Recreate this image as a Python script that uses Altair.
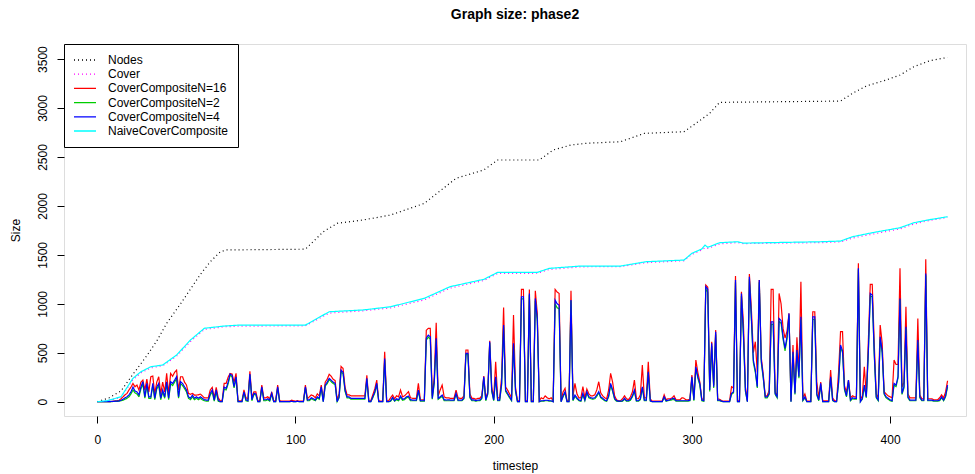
import altair as alt
import pandas as pd

# ---------------- data ----------------
series_names = ["Nodes", "Cover", "CoverCompositeN=16", "CoverCompositeN=2",
                "CoverCompositeN=4", "NaiveCoverComposite"]
series_colors = ["#000000", "#FF00FF", "#FF0000", "#00CD00", "#0000FF", "#00FFFF"]

# smooth series (timestep, value) breakpoints
nodes_t = [0, 6, 12, 18, 25, 30, 35, 42, 47, 52, 57, 62, 65, 105, 114, 121, 134, 148, 165,
           181, 195, 202, 223, 230, 239, 247, 264, 276, 296, 302, 309, 314, 375, 381, 388,
           398, 405, 412, 420, 429]
nodes_v = [0, 40, 110, 280, 470, 620, 800, 1000, 1150, 1300, 1430, 1530, 1550, 1558, 1736,
           1822, 1856, 1907, 2026, 2282, 2367, 2469, 2469, 2571, 2622, 2640, 2656, 2741,
           2758, 2843, 2946, 3058, 3071, 3150, 3225, 3286, 3337, 3422, 3483, 3517]

naive_t = [0, 5, 12, 18, 22, 27, 33, 40, 47, 54, 64, 72, 105, 117, 134, 148, 165, 178, 195,
           202, 222, 228, 244, 264, 277, 296, 300, 305, 306.6, 308, 314, 323, 326, 365, 375,
           381, 392, 405, 412, 419, 429]
naive_v = [0, 10, 51, 239, 306, 357, 375, 477, 630, 750, 773, 783, 783, 919, 937, 970, 1056,
           1175, 1250, 1321, 1321, 1362, 1386, 1386, 1430, 1447, 1516, 1560, 1600, 1577,
           1624, 1634, 1620, 1634, 1641, 1685, 1730, 1777, 1828, 1856, 1890]
cover_v = [0, 8, 45, 225, 295, 345, 368, 465, 615, 738, 765, 772, 775, 905, 928, 958, 1040,
           1160, 1238, 1310, 1312, 1350, 1378, 1380, 1420, 1440, 1505, 1550, 1570, 1565,
           1612, 1625, 1615, 1625, 1632, 1672, 1715, 1765, 1815, 1848, 1882]

# composite series, one value per timestep 0..429
n4 = [
    0, 0, 0, 0, 0, 0, 0, 2, 3, 5,
    5, 8, 15, 25, 40, 50, 70, 100, 150, 110,
    100, 70, 150, 205, 50, 187, 50, 50, 187, 35,
    150, 187, 35, 120, 50, 204, 35, 204, 187, 220,
    255, 50, 204, 187, 153, 120, 50, 35, 68, 35,
    50, 35, 50, 35, 20, 17, 17, 85, 120, 17,
    120, 17, 0, 0, 150, 135, 200, 283, 270, 153,
    255, 0, 0, 0, 100, 20, 10, 283, 20, 85,
    80, 0, 0, 153, 20, 20, 30, 15, 85, 0,
    0, 153, 0, 0, 0, 0, 0, 0, 5, 0,
    0, 5, 0, 0, 0, 153, 17, 20, 40, 30,
    17, 50, 35, 153, 0, 170, 200, 238, 220, 200,
    187, 0, 50, 323, 300, 119, 50, 50, 35, 35,
    35, 35, 35, 35, 35, 35, 238, 0, 0, 50,
    100, 187, 0, 0, 0, 442, 0, 0, 10, 44,
    10, 30, 20, 58, 25, 30, 50, 58, 20, 17,
    17, 17, 119, 10, 10, 10, 650, 680, 663, 34,
    200, 647, 34, 50, 68, 20, 17, 20, 17, 17,
    17, 85, 17, 17, 17, 40, 494, 494, 50, 17,
    20, 10, 17, 17, 40, 255, 17, 85, 613, 119,
    17, 255, 17, 17, 187, 783, 119, 85, 50, 17,
    596, 119, 0, 0, 1072, 1072, 0, 0, 1106, 0,
    0, 1055, 850, 0, 10, 10, 15, 15, 10, 10,
    0, 1038, 1000, 987, 0, 60, 102, 0, 0, 1038,
    17, 68, 40, 17, 10, 85, 17, 102, 50, 40,
    35, 40, 68, 102, 50, 35, 17, 10, 60, 187,
    120, 35, 10, 5, 5, 10, 35, 10, 10, 25,
    60, 119, 10, 10, 30, 153, 17, 17, 306, 10,
    0, 0, 0, 0, 0, 0, 50, 10, 15, 20,
    30, 35, 10, 10, 10, 10, 10, 10, 10, 15,
    255, 17, 357, 255, 187, 17, 10, 1175, 1150, 119,
    596, 153, 715, 17, 17, 5, 0, 0, 0, 0,
    85, 102, 1243, 0, 0, 1106, 700, 119, 0, 1277,
    868, 425, 323, 153, 1243, 425, 255, 50, 50, 85,
    817, 817, 85, 50, 851, 830, 665, 545, 665, 902,
    0, 510, 85, 528, 255, 868, 17, 50, 0, 0,
    0, 868, 868, 80, 17, 187, 0, 0, 0, 0,
    255, 17, 0, 0, 200, 579, 520, 136, 60, 221,
    17, 40, 35, 35, 1362, 0, 35, 170, 50, 500,
    1106, 1090, 500, 50, 17, 664, 520, 85, 50, 35,
    20, 10, 187, 170, 255, 1055, 85, 153, 766, 50,
    17, 17, 17, 17, 630, 50, 17, 17, 1310, 17,
    17, 17, 10, 10, 10, 17, 50, 17, 60, 170,
]

n16 = [
    0, 0, 0, 0, 0, 0, 0, 3, 5, 8,
    10, 15, 30, 50, 70, 85, 120, 150, 187, 153,
    170, 120, 200, 221, 120, 230, 100, 255, 262, 80,
    200, 255, 80, 200, 100, 289, 80, 289, 260, 300,
    323, 120, 255, 255, 200, 170, 85, 75, 85, 68,
    68, 70, 78, 60, 40, 40, 40, 120, 146, 40,
    146, 40, 10, 10, 187, 187, 250, 289, 283, 200,
    289, 10, 10, 10, 120, 40, 30, 310, 40, 100,
    100, 10, 10, 170, 40, 40, 50, 30, 100, 10,
    10, 170, 10, 5, 5, 5, 5, 5, 15, 10,
    5, 10, 5, 5, 5, 170, 30, 50, 70, 60,
    40, 80, 60, 170, 20, 200, 230, 280, 260, 230,
    215, 20, 80, 360, 340, 150, 70, 70, 60, 60,
    60, 60, 60, 60, 60, 60, 270, 10, 10, 70,
    130, 220, 10, 5, 5, 510, 10, 10, 40, 68,
    30, 60, 50, 119, 50, 60, 80, 102, 40, 35,
    35, 35, 187, 20, 20, 20, 730, 750, 750, 60,
    250, 807, 60, 120, 170, 50, 40, 40, 35, 35,
    35, 119, 40, 35, 35, 60, 528, 528, 80, 35,
    35, 25, 35, 35, 60, 262, 35, 100, 623, 150,
    40, 408, 40, 40, 250, 963, 150, 120, 80, 40,
    885, 150, 10, 10, 1147, 1147, 10, 10, 1147, 10,
    10, 1134, 900, 10, 40, 30, 60, 40, 30, 40,
    10, 1147, 1120, 1106, 10, 100, 136, 10, 10, 1134,
    60, 187, 80, 40, 40, 153, 40, 130, 80, 60,
    60, 70, 120, 204, 90, 60, 40, 30, 120, 289,
    200, 60, 20, 10, 10, 30, 60, 30, 20, 50,
    100, 221, 30, 30, 70, 374, 40, 40, 408, 30,
    5, 5, 5, 5, 5, 5, 70, 20, 30, 30,
    40, 60, 20, 20, 20, 40, 35, 20, 20, 25,
    272, 35, 425, 300, 200, 30, 20, 1192, 1170, 150,
    613, 170, 732, 30, 25, 10, 5, 5, 5, 5,
    153, 140, 1284, 10, 10, 1123, 800, 150, 10, 1304,
    950, 500, 613, 300, 1243, 450, 280, 60, 60, 120,
    1147, 1147, 100, 60, 1106, 1000, 749, 650, 720, 902,
    10, 579, 100, 657, 300, 1226, 40, 80, 5, 5,
    5, 919, 919, 204, 40, 200, 10, 10, 10, 10,
    323, 40, 10, 10, 300, 715, 715, 160, 100, 221,
    40, 60, 50, 50, 1413, 20, 60, 357, 60, 600,
    1198, 1198, 600, 80, 40, 783, 600, 100, 80, 60,
    50, 40, 425, 380, 380, 1362, 150, 200, 970, 80,
    40, 40, 40, 40, 851, 70, 30, 30, 1454, 30,
    30, 30, 20, 20, 20, 40, 70, 40, 100, 214,
]

n2 = [
    0, 0, 0, 0, 0, 0, 0, 1, 2, 3,
    4, 6, 10, 15, 25, 35, 50, 80, 120, 90,
    80, 50, 130, 180, 35, 165, 35, 35, 165, 20,
    130, 165, 20, 100, 35, 185, 20, 185, 165, 200,
    235, 35, 185, 165, 135, 100, 35, 20, 50, 20,
    35, 20, 35, 20, 10, 5, 5, 70, 100, 5,
    100, 5, 0, 0, 130, 120, 180, 270, 255, 140,
    240, 0, 0, 0, 90, 10, 5, 270, 10, 75,
    70, 0, 0, 140, 10, 10, 20, 5, 75, 0,
    0, 140, 0, 0, 0, 0, 0, 0, 3, 0,
    0, 3, 0, 0, 0, 140, 10, 10, 30, 20,
    10, 40, 25, 140, 0, 160, 185, 225, 205, 185,
    175, 0, 40, 305, 285, 105, 40, 40, 25, 25,
    25, 25, 25, 25, 25, 25, 225, 0, 0, 40,
    90, 175, 0, 0, 0, 425, 0, 0, 5, 35,
    5, 20, 10, 45, 15, 20, 40, 45, 10, 10,
    10, 10, 105, 5, 5, 5, 630, 660, 640, 25,
    185, 625, 25, 40, 55, 10, 10, 10, 10, 10,
    10, 75, 10, 10, 10, 30, 480, 480, 40, 10,
    10, 5, 10, 10, 30, 240, 10, 75, 600, 105,
    10, 240, 10, 10, 170, 765, 105, 75, 40, 10,
    580, 105, 0, 0, 1050, 1050, 0, 0, 1090, 0,
    0, 1030, 820, 0, 5, 5, 10, 10, 5, 5,
    0, 1000, 960, 950, 0, 50, 90, 0, 0, 1030,
    10, 55, 30, 10, 5, 70, 10, 90, 40, 30,
    25, 30, 55, 90, 40, 25, 10, 5, 50, 170,
    105, 25, 5, 3, 3, 5, 25, 5, 5, 15,
    50, 105, 5, 5, 20, 140, 10, 10, 290, 5,
    0, 0, 0, 0, 0, 0, 40, 5, 10, 15,
    20, 25, 5, 5, 5, 5, 5, 5, 5, 10,
    240, 10, 340, 240, 170, 10, 5, 1150, 1120, 105,
    570, 140, 690, 10, 10, 3, 0, 0, 0, 0,
    75, 90, 1220, 0, 0, 1080, 670, 105, 0, 1250,
    840, 400, 300, 140, 1220, 400, 240, 40, 40, 75,
    790, 790, 75, 40, 820, 800, 640, 520, 640, 880,
    0, 490, 75, 505, 240, 840, 10, 40, 0, 0,
    0, 840, 840, 70, 10, 170, 0, 0, 0, 0,
    240, 10, 0, 0, 185, 560, 500, 120, 50, 205,
    10, 30, 25, 25, 1350, 0, 25, 155, 40, 480,
    1080, 1070, 480, 40, 10, 640, 500, 75, 40, 25,
    10, 5, 170, 155, 240, 1040, 75, 140, 745, 40,
    10, 10, 10, 10, 610, 40, 10, 10, 1290, 10,
    10, 10, 5, 5, 5, 10, 40, 10, 50, 150,
]

x_ticks = [0, 100, 200, 300, 400]
y_ticks = [0, 500, 1000, 1500, 2000, 2500, 3000, 3500]

# ---------------- build table ----------------
rows = []
for t, v in zip(nodes_t, nodes_v):
    rows.append({"timestep": t, "size": v, "series": "Nodes"})
for t, v in zip(naive_t, cover_v):
    rows.append({"timestep": t, "size": v, "series": "Cover"})
for name, vals in [("CoverCompositeN=16", n16), ("CoverCompositeN=2", n2),
                   ("CoverCompositeN=4", n4)]:
    for i, v in enumerate(vals):
        rows.append({"timestep": i, "size": v, "series": name})
for t, v in zip(naive_t, naive_v):
    rows.append({"timestep": t, "size": v, "series": "NaiveCoverComposite"})
df = pd.DataFrame(rows)

FONT = "Liberation Sans"

x_enc = alt.X("timestep:Q",
              scale=alt.Scale(domain=[-16.8, 438.3], nice=False, zero=False),
              axis=alt.Axis(values=x_ticks, format="d", title="timestep", grid=False,
                            domain=False, tickSize=7, tickColor="black",
                            labelColor="black", labelFontSize=12, labelFont=FONT,
                            labelPadding=11, titleFont=FONT, titleFontSize=12,
                            titleFontWeight="normal", titleColor="black",
                            titlePadding=15, labelFlush=False))
y_enc = alt.Y("size:Q",
              scale=alt.Scale(domain=[-146, 3654], nice=False, zero=False),
              axis=alt.Axis(values=y_ticks, format="d", title="Size", grid=False,
                            domain=False, tickSize=7, tickColor="black",
                            labelColor="black", labelFontSize=12, labelFont=FONT,
                            labelPadding=8, labelAngle=270, labelAlign="center",
                            labelBaseline="bottom", titleFont=FONT, titleFontSize=12,
                            titleFontWeight="normal", titleColor="black",
                            titlePadding=14, labelFlush=False))

color_scale = alt.Scale(domain=series_names, range=series_colors)
dash_scale = alt.Scale(domain=series_names,
                       range=[[1, 3], [1, 3], [1, 0], [1, 0], [1, 0], [1, 0]])

legend = alt.Legend(title=None, orient="top-left", offset=0, symbolType="stroke",
                    symbolSize=484, symbolStrokeWidth=1.3, labelFont=FONT,
                    labelFontSize=12, labelColor="black", labelOffset=11,
                    clipHeight=14, rowPadding=0.2, padding=9,
                    strokeColor="black", fillColor="white", labelLimit=300)

layers = []
for name in series_names:
    dotted = name in ("Nodes", "Cover")
    layers.append(
        alt.Chart(df)
        .transform_filter(alt.datum.series == name)
        .mark_line(strokeWidth=1.2, strokeCap="butt", interpolate="linear")
        .encode(x=x_enc, y=y_enc,
                color=alt.Color("series:N", scale=color_scale, legend=legend),
                strokeDash=alt.StrokeDash("series:N", scale=dash_scale, legend=legend),
                order=alt.Order("timestep:Q"))
    )

chart = (
    alt.layer(*layers)
    .properties(
        width=902, height=372,
        title=alt.TitleParams("Graph size: phase2", font=FONT, fontSize=14,
                              fontWeight="bold", color="black", anchor="middle",
                              offset=22),
        autosize=alt.AutoSizeParams(type="none"),
        padding={"left": 64, "top": 44, "right": 9, "bottom": 58},
    )
    .configure_view(stroke="black", strokeWidth=1)
    .configure(background="white")
)

chart.save("out.html", embed_options={"renderer": "svg", "actions": False})
